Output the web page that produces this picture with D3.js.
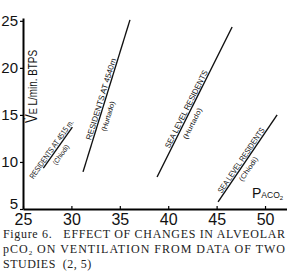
<!DOCTYPE html>
<html>
<head>
<meta charset="utf-8">
<script src="https://cdn.jsdelivr.net/npm/d3@7"></script>
<style>
  body { margin: 0; background: #fff; }
  svg { display: block; }
  .tick text { font-family: "Liberation Sans", Arial, sans-serif; }
</style>
</head>
<body>
<script>
var width = 287;
var height = 280;

// the four regression lines: endpoints (PACO2, VE)
var studies = ["RESIDENTS AT 4515 m.", "RESIDENTS AT 4540m", "SEA LEVEL RESIDENTS", "SEA LEVEL RESIDENTS"];
var authors = ["(Chiodi)", "(Hurtado)", "(Hurtado)", "(Chiodi)"];
var lineX = [[27.1, 30.1], [31.2, 36.05], [38.85, 46.6], [45.15, 51.25]];
var lineY = [[9.35, 13.7], [8.95, 25.1], [8.4, 24.35], [5.75, 15.0]];

var xTicks = [25, 30, 35, 40, 45, 50];
var yTicks = [5, 10, 15, 20, 25];

var caption = ["Figure 6.\u00a0\u00a0 EFFECT OF CHANGES IN ALVEOLAR",
               "ON VENTILATION FROM DATA OF TWO",
               "STUDIES\u00a0 (2, 5)"];

// label placement along each line: fraction, text length, sub-label fraction, length, offset
var labelPos = [
    { t: 0.40, len: 70, st: 0.42, slen: 23, soff: 9 },
    { t: 0.47, len: 85, st: 0.38, slen: 31, soff: 10 },
    { t: 0.44, len: 86, st: 0.38, slen: 34, soff: 10 },
    { t: 0.45, len: 77, st: 0.42, slen: 28, soff: 9 }
];

var x = d3.scaleLinear().domain([25, 52.27]).range([23, 287]);
var y = d3.scaleLinear().domain([5, 25.3]).range([209, 18]);

var svg = d3.select("body").append("svg")
    .attr("width", width)
    .attr("height", height);

// axes
var xAxis = d3.axisBottom(x)
    .tickValues(xTicks)
    .tickSize(-3)
    .tickSizeOuter(0)
    .tickPadding(5);

var gx = svg.append("g")
    .attr("transform", "translate(0," + y(5) + ")")
    .call(xAxis);
gx.select(".domain").attr("stroke-width", 2);
gx.selectAll(".tick line").attr("stroke-width", 1.2);
gx.selectAll(".tick text")
    .style("font-size", "16px")
    .attr("fill", "#111");

var yAxis = d3.axisLeft(y)
    .tickValues(yTicks)
    .tickSize(3)
    .tickSizeOuter(0)
    .tickPadding(2);

var gy = svg.append("g")
    .attr("transform", "translate(" + x(25) + ",0)")
    .call(yAxis);
gy.select(".domain").attr("stroke-width", 2);
gy.selectAll(".tick line").attr("stroke-width", 1.2);
gy.selectAll(".tick text")
    .style("font-size", "15px")
    .attr("fill", "#111")
    .attr("dy", function(d) { return d == 5 ? "-0.05em" : "0.32em"; });

// regression lines
var lines = studies.map(function(s, i) {
    return { name: s, author: authors[i], xs: lineX[i], ys: lineY[i], pos: labelPos[i] };
});

svg.selectAll(".study")
    .data(lines)
    .enter().append("line")
    .attr("class", "study")
    .attr("x1", function(d) { return x(d.xs[0]); })
    .attr("y1", function(d) { return y(d.ys[0]); })
    .attr("x2", function(d) { return x(d.xs[1]); })
    .attr("y2", function(d) { return y(d.ys[1]); })
    .attr("stroke", "#111")
    .attr("stroke-width", 1.4);

function along(d, t) {
    var x1 = x(d.xs[0]), y1 = y(d.ys[0]), x2 = x(d.xs[1]), y2 = y(d.ys[1]);
    var ang = Math.atan2(y2 - y1, x2 - x1) * 180 / Math.PI;
    return { x: x1 + (x2 - x1) * t, y: y1 + (y2 - y1) * t, a: ang };
}

svg.selectAll(".lab")
    .data(lines)
    .enter().append("text")
    .attr("class", "lab")
    .attr("transform", function(d) {
        var p = along(d, d.pos.t);
        return "translate(" + p.x + "," + p.y + ") rotate(" + p.a + ")";
    })
    .attr("y", -1.5)
    .attr("text-anchor", "middle")
    .attr("textLength", function(d) { return d.pos.len; })
    .attr("lengthAdjust", "spacingAndGlyphs")
    .style("font-family", "'Liberation Sans Narrow', 'Liberation Sans', sans-serif")
    .style("font-size", "8px")
    .attr("fill", "#111")
    .text(function(d) { return d.name; });

svg.selectAll(".auth")
    .data(lines)
    .enter().append("text")
    .attr("class", "auth")
    .attr("transform", function(d) {
        var p = along(d, d.pos.st);
        return "translate(" + p.x + "," + p.y + ") rotate(" + p.a + ")";
    })
    .attr("y", function(d) { return d.pos.soff; })
    .attr("text-anchor", "middle")
    .attr("textLength", function(d) { return d.pos.slen; })
    .attr("lengthAdjust", "spacingAndGlyphs")
    .style("font-family", "'Liberation Sans Narrow', 'Liberation Sans', sans-serif")
    .style("font-size", "7px")
    .attr("fill", "#111")
    .text(function(d) { return d.author; });

// y axis title
var yt = svg.append("text")
    .attr("transform", "translate(37,123) rotate(-90)")
    .attr("textLength", 73)
    .attr("lengthAdjust", "spacingAndGlyphs")
    .style("font-family", "'Liberation Sans', sans-serif")
    .attr("fill", "#111");
yt.append("tspan").style("font-size", "16px").text("V\u0307");
yt.append("tspan").style("font-size", "11px").text("E");
yt.append("tspan").style("font-size", "12px").text(" L/min. BTPS");

// x axis title
var xt = svg.append("text")
    .attr("x", 252)
    .attr("y", 198)
    .style("font-family", "'Liberation Sans', sans-serif")
    .attr("fill", "#111");
xt.append("tspan").style("font-size", "14px").text("P");
xt.append("tspan").style("font-size", "8.5px").text("ACO");
xt.append("tspan").style("font-size", "6px").attr("dy", 1.5).text("2");

// caption
var cap = svg.append("g")
    .style("font-family", "'Liberation Serif', 'Times New Roman', serif")
    .style("font-size", "12px")
    .attr("fill", "#222");

cap.append("text")
    .attr("x", 3).attr("y", 238)
    .attr("textLength", 282)
    .attr("lengthAdjust", "spacing")
    .text(caption[0]);

var c2 = cap.append("text")
    .attr("x", 3).attr("y", 253)
    .attr("textLength", 282)
    .attr("lengthAdjust", "spacing");
c2.append("tspan").text("pCO");
c2.append("tspan").attr("dy", 2).style("font-size", "7px").text("2");
c2.append("tspan").attr("dy", -2).text(" " + caption[1]);

cap.append("text")
    .attr("x", 3).attr("y", 268)
    .style("letter-spacing", "0.5px")
    .text(caption[2]);
</script>
</body>
</html>
